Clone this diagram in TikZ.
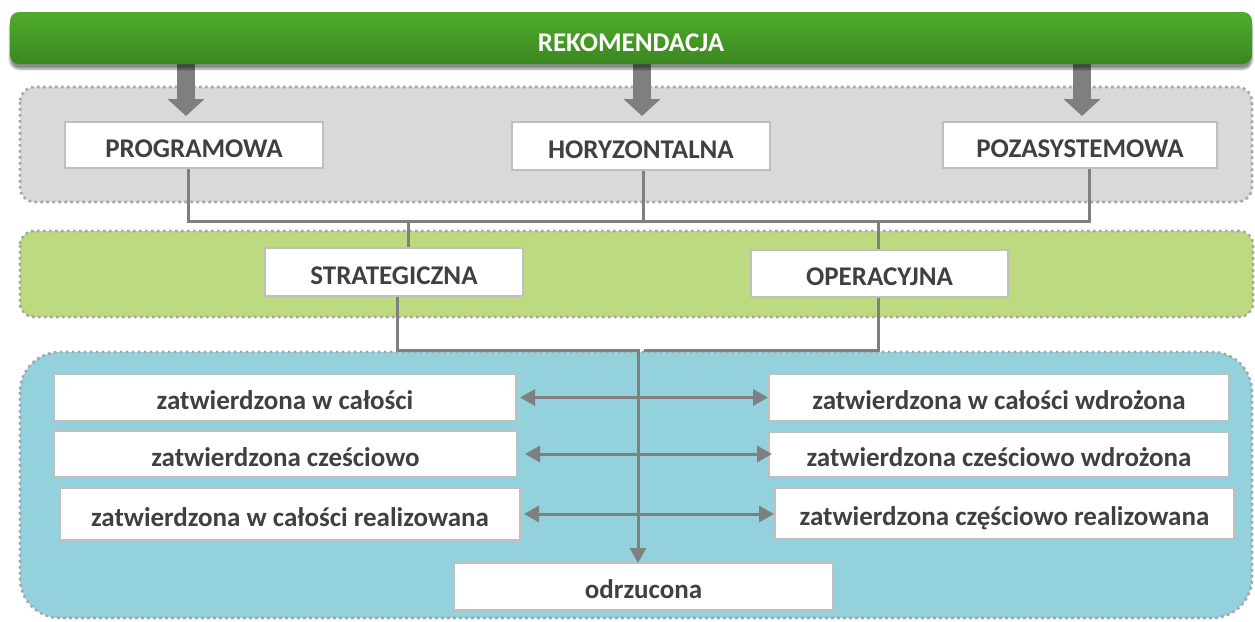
\documentclass[tikz,border=0pt]{standalone}
\usepackage{fontspec}
\setmainfont{Carlito}
\usetikzlibrary{arrows.meta,shadows.blur,calc}
\definecolor{txt}{HTML}{404040}
\definecolor{bandgray}{HTML}{D9D9D9}
\definecolor{bandgreen}{HTML}{BEDA80}
\definecolor{bandblue}{HTML}{93D2DC}
\definecolor{dotgray}{HTML}{A6A6A6}
\definecolor{boxedge}{HTML}{BFBFBF}
\definecolor{conngray}{HTML}{7F7F7F}
\definecolor{gtop}{HTML}{4FAC2A}
\definecolor{gbot}{HTML}{3B8621}
\tikzset{
  band/.style={draw=dotgray, line width=2.6pt, dash pattern=on 2.6pt off 3.4pt},
  wbox/.style={draw=boxedge, line width=2pt, fill=white, text=txt, inner sep=0pt,
    text height=24pt, text depth=0pt,
    font=\fontsize{27}{32}\selectfont\bfseries},
  conn/.style={draw=conngray, line width=3pt},
  tip/.style={-{Triangle[width=16pt,length=15pt]}},
  dtip/.style={{Triangle[width=16pt,length=15pt]}-{Triangle[width=16pt,length=15pt]}},
  blockarrow/.style={draw=conngray, line width=18pt, -{Triangle[width=36pt,length=17pt]}},
}
\begin{document}
\begin{tikzpicture}[x=1pt,y=-1pt]
\useasboundingbox (0,0) rectangle (1255,621);
% bands
\path[band, fill=bandgray, rounded corners=15pt] (20,87) rectangle (1252,202);
\path[band, fill=bandgreen, rounded corners=14pt] (20,231) rectangle (1253,317);
\path[band, fill=bandblue, rounded corners=40pt] (20,352) rectangle (1252,618);
% boxes
\node[wbox, minimum width=258pt, minimum height=46pt] (prog) at (194,145) {PROGRAMOWA};
\node[wbox, minimum width=258pt, minimum height=48pt] (hory) at (641,146) {HORYZONTALNA};
\node[wbox, minimum width=274pt, minimum height=46pt] (poza) at (1080,145) {POZASYSTEMOWA};
\node[wbox, minimum width=258pt, minimum height=48pt] (strat) at (394,272) {STRATEGICZNA};
\node[wbox, minimum width=257pt, minimum height=47pt] (oper) at (879.5,273.5) {OPERACYJNA};
\node[wbox, minimum width=462pt, minimum height=47pt] (l1) at (285,397.5) {zatwierdzona w całości};
\node[wbox, minimum width=463pt, minimum height=46pt] (l2) at (285.5,454) {zatwierdzona cześciowo};
\node[wbox, minimum width=460pt, minimum height=52pt] (l3) at (290,514) {zatwierdzona w całości realizowana};
\node[wbox, minimum width=460pt, minimum height=47pt] (r1) at (999,397.5) {zatwierdzona w całości wdrożona};
\node[wbox, minimum width=460pt, minimum height=45pt] (r2) at (999,454.5) {zatwierdzona cześciowo wdrożona};
\node[wbox, minimum width=459pt, minimum height=51pt] (r3) at (1004.5,513.5) {zatwierdzona częściowo realizowana};
\node[wbox, minimum width=379pt, minimum height=47pt] (odr) at (643.5,586.5) {odrzucona};
% block arrows from the top bar
\coordinate (barbottom) at (631,64);
\draw[blockarrow] ($(prog.north |- barbottom)+(-8,0)$) -- ($(prog.north)+(-8,-5)$);
\draw[blockarrow] ($(hory.north |- barbottom)+(1,0)$) -- ($(hory.north)+(1,-5)$);
\draw[blockarrow] ($(poza.north |- barbottom)+(2,0)$) -- ($(poza.north)+(2,-5)$);
% top bar
\node[rounded corners=9pt, top color=gtop, bottom color=gbot, draw=none,
  minimum width=1242pt, minimum height=52pt, inner sep=0pt, text=white,
  text height=26pt, text depth=0pt,
  font=\fontsize{27}{32}\selectfont\bfseries,
  blur shadow={shadow xshift=0pt, shadow yshift=-5pt, shadow blur steps=6, shadow opacity=45}]
  (rek) at (631,38) {REKOMENDACJA};
% connectors upper
\draw[conn] ([xshift=-6pt]prog.south) -- ++(0,52) coordinate (bus) -| ([xshift=9pt]poza.south);
\draw[conn] ([xshift=2pt]hory.south) -- ([xshift=2pt]hory.south |- bus);
\draw[conn] ([xshift=14pt]strat.north) -- ([xshift=14pt]strat.north |- bus);
\draw[conn] ([xshift=-1.5pt]oper.north) -- ([xshift=-1.5pt]oper.north |- bus);
% connectors lower
\draw[conn, tip] ([xshift=3pt]strat.south) -- ++(0,53) -| ([xshift=-5.5pt,yshift=-1pt]odr.north);
\coordinate (join) at (644,350);
\draw[conn] ([xshift=-1.5pt]oper.south) |- (join);
\draw[conn, dtip, shorten <=3pt] (l1.east) -- (l1.east -| r1.west);
\draw[conn, dtip, shorten <=7pt, shorten >=-4pt] (l2.east) -- (l2.east -| r2.west);
\draw[conn, dtip, shorten <=3pt] (l3.east) -- (l3.east -| r3.west);
\end{tikzpicture}
\end{document}
